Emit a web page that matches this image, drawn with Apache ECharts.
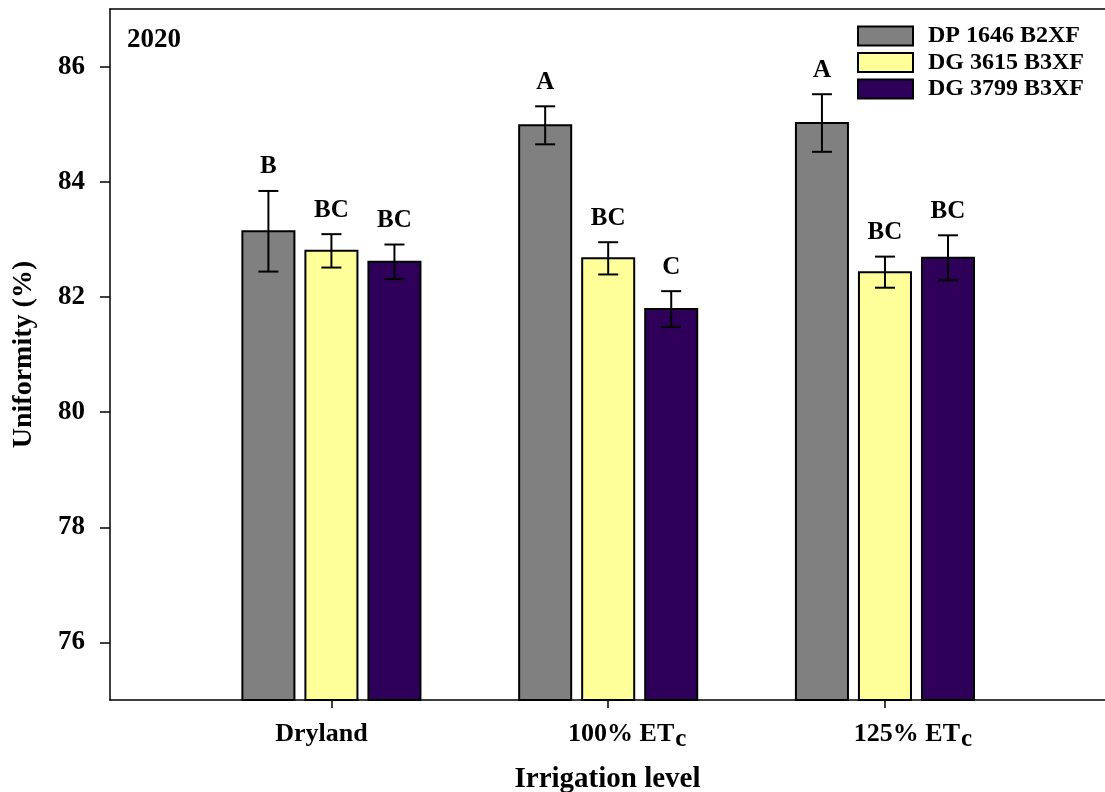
<!DOCTYPE html>
<html>
<head>
<meta charset="utf-8">
<script src="https://cdn.jsdelivr.net/npm/echarts@6/dist/echarts.min.js"></script>
<style>html,body{margin:0;padding:0;background:#fff;}#c{width:1105px;height:792px;}</style>
</head>
<body>
<div id="c"></div>
<script>
const categories = ['Dryland', '100% ET{sub|c}', '125% ET{sub|c}'];
const seriesNames = ['DP 1646 B2XF', 'DG 3615 B3XF', 'DG 3799 B3XF'];
const dp1646 = [83.14, 84.98, 85.02];
const dp1646Err = [0.70, 0.33, 0.50];
const dp1646Letters = ['B', 'A', 'A'];
const dg3615 = [82.80, 82.67, 82.43];
const dg3615Err = [0.29, 0.28, 0.27];
const dg3615Letters = ['BC', 'BC', 'BC'];
const dg3799 = [82.61, 81.79, 82.68];
const dg3799Err = [0.30, 0.31, 0.39];
const dg3799Letters = ['BC', 'C', 'BC'];
const yTicks = [76, 78, 80, 82, 84, 86];

const FONT = '"Liberation Serif", "Times New Roman", serif';
const colors = ['#808080', '#ffff99', '#2e0059'];
const offsets = [-0.2277, 0, 0.2277];
const halfW = 0.094;
const yMin = 75;
// horizontal nudge (px) of each category label relative to its tick, as in the original
const labelShiftPx = [-10, 19, 28];

const vals = [dp1646, dg3615, dg3799];
const errs = [dp1646Err, dg3615Err, dg3799Err];
const letters = [dp1646Letters, dg3615Letters, dg3799Letters];

function makeSeries(si) {
  return {
    name: seriesNames[si],
    type: 'custom',
    itemStyle: { color: colors[si], borderColor: '#000', borderWidth: 2 },
    encode: { x: 0, y: 1 },
    data: vals[si].map((v, i) => [i + 1, v, errs[si][i]]),
    renderItem: function (params, api) {
      const x = api.value(0) + offsets[si];
      const v = api.value(1);
      const e = api.value(2);
      const tl = api.coord([x - halfW, v]);
      const br = api.coord([x + halfW, yMin]);
      const top = api.coord([x, v + e]);
      const bot = api.coord([x, v - e]);
      const cap = 10;
      return {
        type: 'group',
        children: [
          { type: 'rect', shape: { x: tl[0], y: tl[1], width: br[0] - tl[0], height: br[1] - tl[1] },
            style: { fill: colors[si], stroke: '#000', lineWidth: 2 } },
          { type: 'line', shape: { x1: top[0], y1: top[1], x2: bot[0], y2: bot[1] }, style: { stroke: '#000', lineWidth: 2 } },
          { type: 'line', shape: { x1: top[0] - cap, y1: top[1], x2: top[0] + cap, y2: top[1] }, style: { stroke: '#000', lineWidth: 2 } },
          { type: 'line', shape: { x1: bot[0] - cap, y1: bot[1], x2: bot[0] + cap, y2: bot[1] }, style: { stroke: '#000', lineWidth: 2 } },
          { type: 'text', style: { text: letters[si][params.dataIndex], x: top[0], y: top[1] - 24,
              align: 'center', verticalAlign: 'middle', font: 'bold 25px ' + FONT, fill: '#000' } }
        ]
      };
    }
  };
}

const legendBase = {
  left: 857, icon: 'rect', itemWidth: 55, itemHeight: 19, padding: 0,
  itemStyle: { borderColor: '#000', borderWidth: 2 },
  textStyle: { fontFamily: FONT, fontWeight: 'bold', fontSize: 24, color: '#000', padding: [0, 0, 0, 10] }
};

const richStyles = {
  sub: { fontFamily: FONT, fontWeight: 'bold', fontSize: 25, color: '#000', lineHeight: 27, verticalAlign: 'bottom', padding: [0, 0, 0, 1] }
};
labelShiftPx.forEach((s, i) => {
  richStyles['sp' + i] = { width: Math.abs(2 * s), fontSize: 26, lineHeight: 36 };
});

const option = {
  animation: false,
  backgroundColor: '#fff',
  title: { text: '2020', left: 127, top: 27, padding: 0,
    textStyle: { fontFamily: FONT, fontWeight: 'bold', fontSize: 27, color: '#000' } },
  legend: [
    Object.assign({}, legendBase, { data: [seriesNames[0]], top: 24 }),
    Object.assign({}, legendBase, { data: [seriesNames[1]], top: 50.5 }),
    Object.assign({}, legendBase, { data: [seriesNames[2]], top: 77 })
  ],
  grid: { left: 110, right: 0, top: 9, bottom: 92, show: false, containLabel: false, outerBoundsMode: 'none' },
  xAxis: [{
    type: 'value', min: 0.2, max: 3.795,
    name: 'Irrigation level', nameLocation: 'middle', nameGap: 65, nameMoveOverlap: false,
    nameTextStyle: { fontFamily: FONT, fontWeight: 'bold', fontSize: 29, color: '#000' },
    splitLine: { show: false },
    axisLine: { show: true, lineStyle: { color: '#000', width: 1.5 } },
    axisTick: { show: true, length: 8, customValues: [1, 2, 3], lineStyle: { color: '#000', width: 1.5 } },
    axisLabel: {
      customValues: [1, 2, 3], margin: 16, lineHeight: 36,
      formatter: function (v) {
        const i = Math.round(v) - 1;
        const sp = '{sp' + i + '| }';
        return labelShiftPx[i] < 0 ? categories[i] + sp : sp + categories[i];
      },
      fontFamily: FONT, fontWeight: 'bold', fontSize: 26, color: '#000',
      rich: richStyles
    }
  }, {
    type: 'value', min: 0.2, max: 3.795, position: 'top',
    splitLine: { show: false },
    axisLine: { show: true, lineStyle: { color: '#000', width: 1.5 } },
    axisTick: { show: false }, axisLabel: { show: false }
  }],
  yAxis: {
    type: 'value', min: 75, max: 87,
    name: 'Uniformity (%)', nameLocation: 'middle', nameGap: 72, nameRotate: 90, nameMoveOverlap: false,
    nameTextStyle: { fontFamily: FONT, fontWeight: 'bold', fontSize: 28, color: '#000' },
    splitLine: { show: false },
    axisLine: { show: true, lineStyle: { color: '#000', width: 1.5 } },
    axisTick: { show: true, length: 10, customValues: yTicks, lineStyle: { color: '#000', width: 1.5 } },
    axisLabel: { customValues: yTicks, margin: 25, fontFamily: FONT, fontWeight: 'bold', fontSize: 27, color: '#000' }
  },
  series: [makeSeries(0), makeSeries(1), makeSeries(2)]
};

const chart = echarts.init(document.getElementById('c'), null, { renderer: 'canvas' });
chart.setOption(option);
</script>
</body>
</html>
